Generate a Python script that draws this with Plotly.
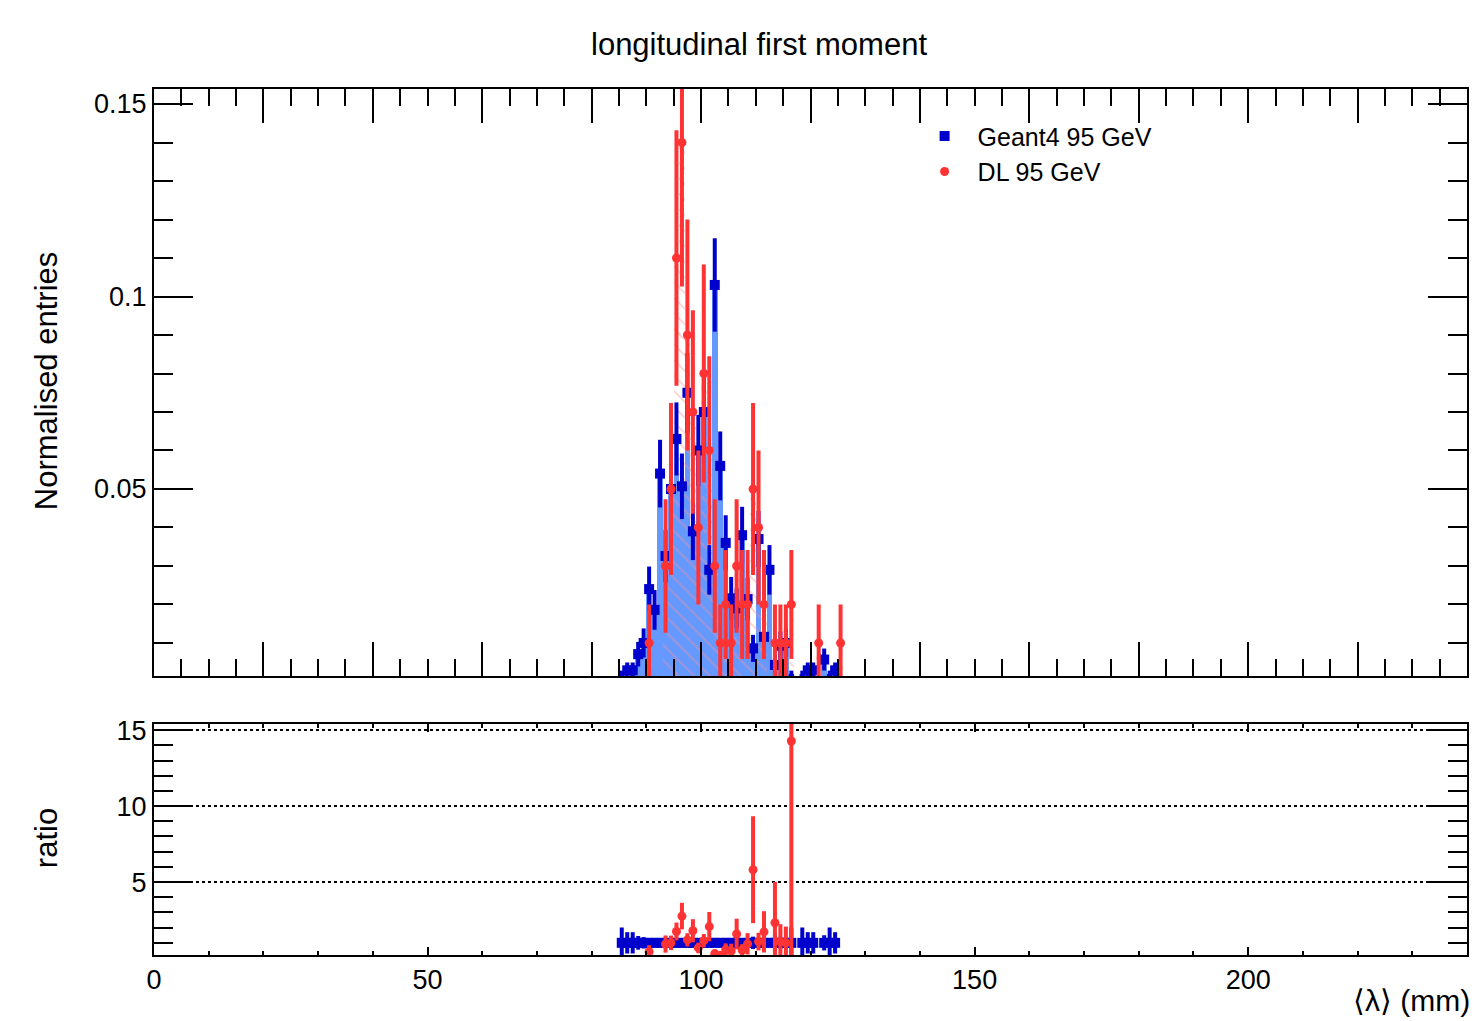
import numpy as np
import plotly.graph_objects as go

# ---------------- data ----------------
bin_centers = [85.5, 86.5, 87.5, 88.5, 89.5, 90.5, 91.5, 92.5, 93.5, 94.5,
               95.5, 96.5, 97.5, 98.5, 99.5, 100.5, 101.5, 102.5, 103.5, 104.5,
               105.5, 106.5, 107.5, 108.5, 109.5, 110.5, 111.5, 112.5, 113.5, 114.5,
               115.5, 116.5, 117.5, 118.5, 119.5, 120.5, 121.5, 122.5, 123.5, 124.5,
               125.5]

geant4 = [0.0014, 0.0029, 0.0029, 0.0071, 0.0100, 0.0240, 0.0186, 0.0540, 0.0326, 0.0500,
          0.0630, 0.0507, 0.0750, 0.0390, 0.0600, 0.0700, 0.0290, 0.1030, 0.0560, 0.0360,
          0.0216, 0.0190, 0.0380, 0.0214, 0.0086, 0.0370, 0.0116, 0.0290, 0.0043, 0.0093,
          0.0100, 0.0014, 0.0, 0.0014, 0.0029, 0.0029, 0.0, 0.0057, 0.0014, 0.0029,
          0.0]

dl = [0.0, 0.0, 0.0, 0.0, 0.0, 0.01, 0.0, 0.0, 0.03, 0.05,
      0.11, 0.14, 0.09, 0.07, 0.04, 0.08, 0.06, 0.03, 0.01, 0.02,
      0.01, 0.03, 0.02, 0.02, 0.05, 0.04, 0.02, 0.0, 0.01, 0.01,
      0.01, 0.02, 0.0, 0.0, 0.0, 0.0, 0.01, 0.0, 0.0, 0.0,
      0.01]

n_geant4 = 700   # events behind the normalised Geant4 histogram
n_dl = 100       # events behind the normalised DL histogram

x_tick_vals = [0, 50, 100, 150, 200]
ratio_tick_vals = [5, 10, 15]
main_tick_vals = [0.05, 0.1, 0.15]
main_tick_text = ["0.05", "0.1", "0.15"]

# ---------------- derived quantities ----------------
x = np.array(bin_centers)
g = np.array(geant4)
d = np.array(dl)
g_err = np.sqrt(g / n_geant4)
d_err = np.sqrt(d / n_dl)

gm = g > 0
dm = d > 0
rm = gm & dm

ratio_g = np.ones(gm.sum())
ratio_g_err = 1.0 / np.sqrt(g[gm] * n_geant4)
ratio_d = d[rm] / g[rm]
ratio_d_err = ratio_d * np.sqrt(1.0 / (d[rm] * n_dl) + 1.0 / (g[rm] * n_geant4))

BLUE = "rgb(0,0,204)"
RED = "rgb(255,51,51)"
FILL_BLUE = "rgb(102,153,255)"
HATCH = "rgba(255,140,140,0.85)"
FONT = "Liberation Sans, Arial, Helvetica, sans-serif"

fig = go.Figure()

# filled Geant4 histogram
fig.add_trace(go.Bar(x=x, y=g, width=1.0, marker=dict(color=FILL_BLUE, line=dict(width=0)),
                     showlegend=False, xaxis="x", yaxis="y", hoverinfo="skip"))
# hatched DL histogram
fig.add_trace(go.Bar(x=x, y=d, width=1.0,
                     marker=dict(color="rgba(0,0,0,0)", line=dict(width=0),
                                 pattern=dict(shape="\\", fgcolor=HATCH, bgcolor="rgba(0,0,0,0)",
                                              size=11, solidity=0.15, fillmode="overlay")),
                     showlegend=False, xaxis="x", yaxis="y", hoverinfo="skip"))

# Geant4 points
fig.add_trace(go.Scatter(x=x[gm], y=g[gm], mode="markers", name="Geant4 95 GeV",
                         marker=dict(symbol="square", size=10, color=BLUE),
                         error_y=dict(type="data", array=g_err[gm], color=BLUE, thickness=4, width=0),
                         error_x=dict(type="constant", value=0.5, color=BLUE, thickness=4, width=0),
                         cliponaxis=False, xaxis="x", yaxis="y"))
# DL points
fig.add_trace(go.Scatter(x=x[dm], y=d[dm], mode="markers", name="DL 95 GeV",
                         marker=dict(symbol="circle", size=9, color=RED),
                         error_y=dict(type="data", array=d_err[dm], color=RED, thickness=4, width=0),
                         error_x=dict(type="constant", value=0.5, color=RED, thickness=4, width=0),
                         xaxis="x", yaxis="y"))

# ratio panel
fig.add_trace(go.Scatter(x=x[gm], y=ratio_g, mode="markers", showlegend=False,
                         marker=dict(symbol="square", size=10, color=BLUE),
                         error_y=dict(type="data", array=ratio_g_err, color=BLUE, thickness=4, width=0),
                         error_x=dict(type="constant", value=0.5, color=BLUE, thickness=8, width=0),
                         xaxis="x2", yaxis="y2"))
fig.add_trace(go.Scatter(x=x[rm], y=ratio_d, mode="markers", showlegend=False,
                         marker=dict(symbol="circle", size=9, color=RED),
                         error_y=dict(type="data", array=ratio_d_err, color=RED, thickness=4, width=0),
                         error_x=dict(type="constant", value=0.5, color=RED, thickness=4, width=0),
                         xaxis="x2", yaxis="y2"))

axis_common = dict(showline=True, linecolor="black", linewidth=2, mirror="ticks",
                   ticks="inside", tickcolor="black", tickwidth=2, zeroline=False,
                   tickfont=dict(family=FONT, size=27, color="black"))

fig.update_layout(
    width=1476, height=1021,
    margin=dict(l=154, r=7, t=89, b=66),
    paper_bgcolor="white", plot_bgcolor="white",
    barmode="overlay", bargap=0,
    font=dict(family=FONT, color="black"),
    title=dict(text="longitudinal first moment", x=759 / 1476, y=1 - 44 / 1021,
               xanchor="center", yanchor="middle", xref="container", yref="container",
               font=dict(family=FONT, size=31, color="black")),
    xaxis=dict(domain=[0, 1], range=[0, 240], anchor="y", showticklabels=False,
               tickmode="linear", tick0=0, dtick=20, ticklen=34, showgrid=False,
               minor=dict(dtick=5, tick0=0, ticklen=17, ticks="inside", tickcolor="black",
                          tickwidth=2, showgrid=False),
               **axis_common),
    yaxis=dict(domain=[0.3222, 1], range=[0.00143, 0.1539], anchor="x",
               tickmode="array", tickvals=main_tick_vals, ticktext=main_tick_text,
               ticklen=39, showgrid=False,
               minor=dict(dtick=0.01, tick0=0, ticklen=19, ticks="inside", tickcolor="black",
                          tickwidth=2, showgrid=False),
               **axis_common),
    xaxis2=dict(domain=[0, 1], range=[0, 240], anchor="y2",
                tickmode="array", tickvals=x_tick_vals, ticklen=8, showgrid=False,
                minor=dict(dtick=10, tick0=0, ticklen=4, ticks="inside", tickcolor="black",
                           tickwidth=2, showgrid=False),
                **axis_common),
    yaxis2=dict(domain=[0, 0.2667], range=[0.2, 15.4], anchor="x2",
                tickmode="array", tickvals=ratio_tick_vals, ticklen=39,
                showgrid=True, gridcolor="black", gridwidth=2, griddash="dot",
                minor=dict(dtick=1, tick0=0, ticklen=19, ticks="inside", tickcolor="black",
                           tickwidth=2, showgrid=False),
                **axis_common),
    legend=dict(x=0.577, y=0.972, xanchor="left", yanchor="top", itemwidth=56,
                bgcolor="rgba(0,0,0,0)", font=dict(family=FONT, size=25, color="black"),
                tracegroupgap=0),
)

# annotation positions given in pixels, converted to paper coords
plot_w = 1476 - 154 - 7
plot_h = 1021 - 89 - 66
def px_to_paper(px, py):
    return (px - 154) / plot_w, (1021 - 66 - py) / plot_h

ax_, ay_ = px_to_paper(46, 381)
rx_, ry_ = px_to_paper(46, 838)
tx_, ty_ = px_to_paper(1474, 1000)
fig.add_annotation(text="Normalised entries", x=ax_, y=ay_, xref="paper", yref="paper",
                   showarrow=False, textangle=-90, xanchor="center", yanchor="middle",
                   font=dict(family=FONT, size=31, color="black"))
fig.add_annotation(text="ratio", x=rx_, y=ry_, xref="paper", yref="paper",
                   showarrow=False, textangle=-90, xanchor="center", yanchor="middle",
                   font=dict(family=FONT, size=31, color="black"))
fig.add_annotation(text="⟨λ⟩ (mm)", x=tx_, y=ty_, xref="paper", yref="paper",
                   showarrow=False, xanchor="right", yanchor="middle",
                   font=dict(family=FONT, size=30, color="black"))

fig.write_html("out.html")
